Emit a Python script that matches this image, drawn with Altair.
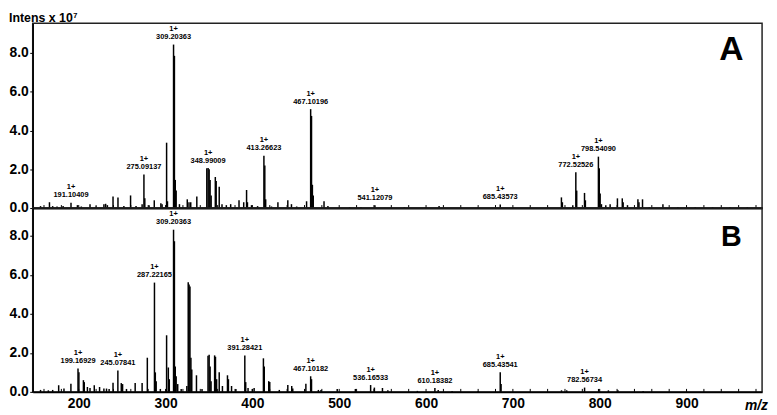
import altair as alt
import pandas as pd

# ---------------- data (m/z, intensity x 10^7) ----------------
A_mz = [156, 166.3, 170, 175, 182, 191.1, 198.5, 203, 213, 220, 229, 231, 233,
        239.5, 245.2, 252, 259.7, 266, 273, 275.09, 276.1, 281, 287, 294.6, 296,
        301.2, 302.2, 309.2, 310.2, 311.2, 312.2, 316, 325, 327, 329, 336,
        347.5, 349.0, 350.2, 351.3, 352.5, 357.3, 358.3, 361.8, 365, 370, 375,
        384.6, 390, 393.3, 394.3, 399, 406, 413.27, 414.3, 415.3, 422, 429.4,
        440.8, 445, 451, 462.4, 467.1, 468.1, 469.1, 470.1, 482.5, 487, 500,
        512, 525, 541.12, 560, 575, 600, 615, 640, 660, 685.44, 700, 720, 740,
        755.9, 757, 769, 772.5, 773.5, 782.5, 783.5, 798.5, 799.5, 800.5, 802,
        807, 812, 820.4, 826, 827, 832, 844, 845.2, 849.3, 857, 872.8, 890,
        910, 930, 950, 970]
A_int = [0.1, 0.3, 0.1, 0.08, 0.1, 0.27, 0.15, 0.08, 0.2, 0.08, 0.2, 0.22, 0.15,
         0.6, 0.55, 0.1, 0.65, 0.1, 0.2, 1.73, 0.5, 0.15, 0.4, 0.25, 0.2,
         3.37, 0.35, 8.43, 7.85, 1.45, 0.9, 0.2, 0.45, 0.3, 0.3, 0.6,
         2.05, 2.06, 2.0, 1.45, 0.65, 1.6, 1.4, 1.1, 0.2, 0.15, 0.2,
         0.4, 0.3, 0.93, 0.3, 0.15, 0.1, 2.7, 2.2, 0.45, 0.08, 0.3,
         0.4, 0.2, 0.08, 0.35, 5.1, 4.75, 1.2, 0.65, 0.35, 0.1, 0.05,
         0.05, 0.05, 0.15, 0.05, 0.05, 0.05, 0.1, 0.05, 0.05, 0.18, 0.05, 0.05, 0.05,
         0.55, 0.3, 0.15, 1.84, 0.9, 0.78, 0.4, 2.65, 2.05, 0.75, 0.2,
         0.15, 0.2, 0.5, 0.5, 0.3, 0.15, 0.45, 0.3, 0.45, 0.05, 0.2, 0.05,
         0.05, 0.05, 0.05, 0.05]

A_labels = ["191.10409", "275.09137", "309.20363", "348.99009", "413.26623",
            "467.10196", "541.12079", "685.43573", "772.52526", "798.54090"]
A_label_int = [0.27, 1.73, 8.43, 2.06, 2.7, 5.1, 0.15, 0.18, 1.84, 2.65]

B_mz = [156, 165, 170, 176.9, 183, 191, 199.17, 200.2, 205.4, 206.4, 210, 213,
        217.9, 224, 229, 232, 235, 239.5, 245.08, 249, 250.5, 255, 265, 273,
        279, 287.22, 288.2, 289.2, 294, 301.2, 303.2, 304.3, 309.2, 310.2,
        311.2, 312.2, 314, 318, 324.5, 326.1, 327.1, 328.1, 329.2, 330.2,
        335.6, 342, 348.9, 350.2, 351.3, 352.4, 356.5, 357.5, 358.8, 361.8,
        365.5, 371.3, 372.4, 376, 381, 391.28, 392.3, 395, 400, 402, 412.7,
        413.7, 418.8, 420, 431, 440.8, 445.3, 446.5, 461.6, 467.1, 468.1, 476,
        479, 497.7, 518.6, 536.17, 540.5, 549.8, 556, 590, 610.18, 614, 630,
        660, 685.44, 686.4, 756, 762, 782.57, 798.8, 810, 821, 850]
B_int = [0.1, 0.08, 0.1, 0.34, 0.17, 0.42, 1.2, 1.0, 0.6, 0.5, 0.25, 0.2,
         0.34, 0.25, 0.17, 0.17, 0.15, 0.47, 1.1, 0.45, 0.4, 0.15, 0.45, 0.45,
         1.75, 5.6, 1.0, 0.55, 0.15, 2.9, 1.25, 0.65, 8.31, 7.72,
         1.3, 0.8, 0.4, 0.15, 0.3, 5.62, 5.5, 5.4, 1.75, 1.15,
         0.85, 0.15, 1.85, 1.9, 1.3, 0.55, 1.87, 1.8, 0.65, 1.0,
         0.3, 0.85, 0.65, 0.3, 0.15, 1.87, 0.5, 0.2, 0.15, 0.2, 1.72,
         1.3, 0.55, 0.5, 0.1, 0.35, 0.3, 0.17, 0.42, 0.8, 0.65, 0.1,
         0.1, 0.15, 0.15, 0.35, 0.22, 0.2, 0.08, 0.05, 0.2, 0.1, 0.05,
         0.05, 1.0, 0.4, 0.08, 0.08, 0.22, 0.15, 0.08, 0.08, 0.05]

B_labels = ["199.16929", "245.07841", "287.22165", "309.20363", "391.28421",
            "467.10182", "536.16533", "610.18382", "685.43541", "782.56734"]
B_label_int = [1.2, 1.1, 5.6, 8.31, 1.87, 0.8, 0.35, 0.2, 1.0, 0.22]

x_tick_labels = [200, 300, 400, 500, 600, 700, 800, 900]
x_minor_ticks = list(range(160, 990, 20))
y_ticks = list(range(10))
panel_letters = ["A", "B"]
y_title = ["Intens x 10", "7"]
x_title = ["m/z"]

# ---------------- layout constants ----------------
W = 738
HA = 187
HB = 186
XDOM = [147, 987]
FONT = "Liberation Sans"

xscale = alt.Scale(domain=XDOM, nice=False, zero=False)


def panel(mz, inten, labels, label_int, ydom, H, letter, letter_size, letter_y, bottom):
    peaks = pd.DataFrame({"mz": mz, "i": inten})
    ann = pd.DataFrame({"lab": labels,
                        "mz": [float(s) for s in labels],
                        "i": label_int,
                        "ch": ["1+"] * len(labels)})
    if bottom:
        xaxis = alt.Axis(values=x_tick_labels, format="d", ticks=False, labelPadding=5,
                         labelFontSize=14, labelFontWeight="bold", labelColor="black",
                         domainColor="black", domainWidth=2, grid=False, title=None,
                         labelFont=FONT)
    else:
        xaxis = alt.Axis(labels=False, ticks=False, domainColor="black", domainWidth=2,
                         grid=False, title=None)
    yaxis = alt.Axis(values=y_ticks,
                     labelExpr="datum.value % 2 == 0 ? format(datum.value, '.1f') : ''",
                     tickSize=3, tickColor="black", tickWidth=1, labelPadding=1.5,
                     labelFontSize=14, labelFontWeight="bold", labelColor="black",
                     labelFont=FONT, domainColor="black", domainWidth=1.5,
                     grid=False, title=None)
    yscale = alt.Scale(domain=ydom, nice=False, zero=True)

    bars = alt.Chart(peaks).mark_rule(color="black", strokeWidth=1.5).encode(
        x=alt.X("mz:Q", scale=xscale, axis=xaxis),
        y=alt.Y("i:Q", scale=yscale, axis=yaxis),
        y2=alt.datum(0),
    )
    num = alt.Chart(ann).mark_text(fontSize=7.5, font=FONT, fontWeight="bold", dy=-7.5,
                                   baseline="middle", color="black").encode(
        x="mz:Q", y="i:Q", text="lab:N")
    chg = alt.Chart(ann).mark_text(fontSize=7.5, font=FONT, fontWeight="bold", dy=-15.5,
                                   baseline="middle", color="black").encode(
        x="mz:Q", y="i:Q", text="ch:N")
    minor = alt.Chart(pd.DataFrame({"t": x_minor_ticks})).mark_rule(
        color="black", strokeWidth=1).encode(
        x="t:Q", y=alt.value(H), y2=alt.value(H - 3))
    let = alt.Chart(pd.DataFrame({"t": [letter]})).mark_text(
        fontSize=letter_size, fontWeight="bold", font=FONT, align="center",
        baseline="middle", color="black").encode(
        x=alt.value(707), y=alt.value(letter_y), text="t:N")
    layers = [bars, minor, num, chg, let]
    if not bottom:
        t1 = alt.Chart(pd.DataFrame({"t": [y_title[0]]})).mark_text(
            fontSize=12.5, fontWeight="bold", font=FONT, align="left",
            baseline="alphabetic", color="black").encode(
            x=alt.value(-24), y=alt.value(-1.5), text="t:N")
        t2 = alt.Chart(pd.DataFrame({"t": [y_title[1]]})).mark_text(
            fontSize=7.5, fontWeight="bold", font=FONT, align="left",
            baseline="alphabetic", color="black").encode(
            x=alt.value(41), y=alt.value(-5.5), text="t:N")
        layers += [t1, t2]
    else:
        t3 = alt.Chart(pd.DataFrame({"t": x_title})).mark_text(
            fontSize=14, fontWeight="bold", fontStyle="italic", font=FONT,
            align="right", baseline="middle", color="black").encode(
            x=alt.value(744), y=alt.value(H + 14), text="t:N")
        layers += [t3]
    return alt.layer(*layers).properties(width=W, height=H)


top = panel(A_mz, A_int, A_labels, A_label_int, [0, 9.53], HA, panel_letters[0], 34, 27.5, False)
bot = panel(B_mz, B_int, B_labels, B_label_int, [0, 9.42], HB, panel_letters[1], 29, 29, True)

chart = alt.vconcat(top, bot, spacing=0, bounds="flush").properties(
    padding=0, background="white"
).configure_view(stroke="#222", strokeWidth=1.5)

chart.save("out.html", embed_options={"renderer": "svg", "actions": False})
